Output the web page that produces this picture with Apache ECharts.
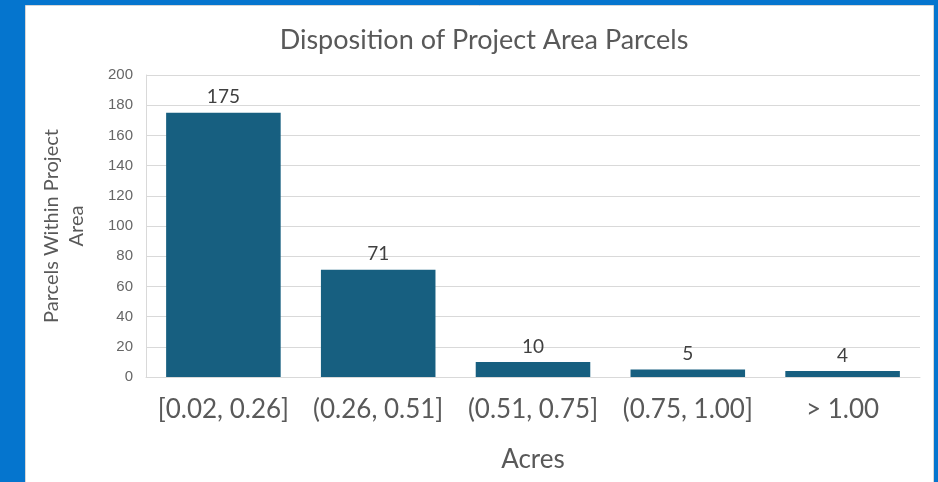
<!DOCTYPE html>
<html><head><meta charset="utf-8">
<script src="https://cdn.jsdelivr.net/npm/echarts@6/dist/echarts.min.js"></script>
<style>html,body{margin:0;padding:0;background:#0575CE;}#c{width:938px;height:482px;}</style>
</head><body><div id="c"></div>
<script>
const categories = ["[0.02, 0.26]", "(0.26, 0.51]", "(0.51, 0.75]", "(0.75, 1.00]", "> 1.00"];
const parcels = [175, 71, 10, 5, 4];
const yTicks = [0, 20, 40, 60, 80, 100, 120, 140, 160, 180, 200];

const chart = echarts.init(document.getElementById('c'), null, {renderer: 'canvas'});
chart.setOption({
  backgroundColor: '#0575CE',
  animation: false,
  graphic: [{
    type: 'rect', left: 25, top: 5, z: -10,
    shape: {width: 908, height: 478},
    style: {fill: '#ffffff', stroke: '#d6d6d6', lineWidth: 1}
  }],
  title: {
    text: 'Disposition of Project Area Parcels',
    left: 479, top: 22, textAlign: 'center',
    textStyle: {fontFamily: 'Lato', fontWeight: 'normal', fontSize: 27, color: '#595959'}
  },
  grid: {left: 146, right: 18, top: 75, bottom: 105, containLabel: false},
  xAxis: {
    type: 'category', data: categories,
    name: 'Acres', nameLocation: 'middle', nameGap: 70,
    nameTextStyle: {fontFamily: 'Lato', fontSize: 26, color: '#595959'},
    axisLine: {show: true, lineStyle: {color: '#d9d9d9'}},
    axisTick: {show: false},
    axisLabel: {interval: 0, hideOverlap: false, fontFamily: 'Lato', fontSize: 26, color: '#595959', margin: 20}
  },
  yAxis: {
    type: 'value', min: yTicks[0], max: yTicks[yTicks.length - 1], interval: 20,
    name: 'Parcels Within Project\nArea', nameLocation: 'middle', nameGap: 57,
    nameRotate: 90,
    nameTextStyle: {fontFamily: 'Lato', fontSize: 20, color: '#595959', lineHeight: 25, align: 'center'},
    axisLine: {show: true, lineStyle: {color: '#d9d9d9'}},
    axisTick: {show: false},
    axisLabel: {fontFamily: 'Liberation Sans', fontSize: 15, color: '#666666', margin: 13},
    splitLine: {lineStyle: {color: '#d9d9d9'}}
  },
  series: [{
    type: 'bar', data: parcels,
    barCategoryGap: '26%',
    itemStyle: {color: '#175F80'},
    label: {show: true, position: 'top', distance: 6, fontFamily: 'Lato', fontSize: 19, color: '#404040'}
  }]
});
</script></body></html>
